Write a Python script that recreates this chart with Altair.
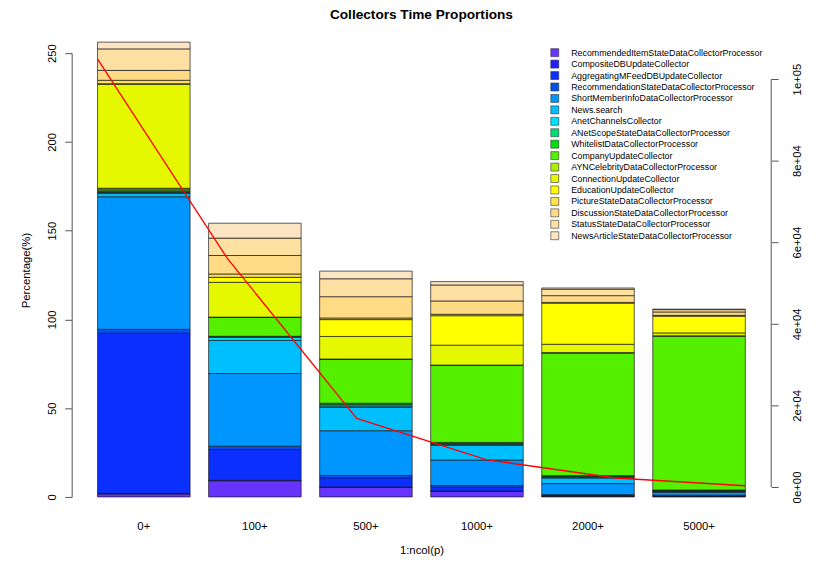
import altair as alt
import pandas as pd

collectors = [
    "RecommendedItemStateDataCollectorProcessor",
    "CompositeDBUpdateCollector",
    "AggregatingMFeedDBUpdateCollector",
    "RecommendationStateDataCollectorProcessor",
    "ShortMemberInfoDataCollectorProcessor",
    "News.search",
    "AnetChannelsCollector",
    "ANetScopeStateDataCollectorProcessor",
    "WhitelistDataCollectorProcessor",
    "CompanyUpdateCollector",
    "AYNCelebrityDataCollectorProcessor",
    "ConnectionUpdateCollector",
    "EducationUpdateCollector",
    "PictureStateDataCollectorProcessor",
    "DiscussionStateDataCollectorProcessor",
    "StatusStateDataCollectorProcessor",
    "NewsArticleStateDataCollectorProcessor",
]
colors = [
    "#6633FF", "#2020FF", "#0A2FFF", "#0050F0", "#0096FF", "#00BFFF",
    "#00E0FF", "#00DD77", "#00DD10", "#55F000", "#AAEE00", "#E6F800",
    "#FFFF00", "#FFE04D", "#FFDB85", "#FFE0A3", "#FDE5C3",
]
groups = ["0+", "100+", "500+", "1000+", "2000+", "5000+"]

pct_0 = [1.7, 0.3, 90.2, 2.2, 74.7, 1.8, 0.6, 0.4, 0.6, 1.0, 0.4, 58.5, 0.4, 1.9, 5.6, 12.1, 3.8]
pct_100 = [9.1, 0.2, 17.4, 1.9, 40.9, 18.7, 1.8, 0.2, 0.3, 10.6, 0.2, 19.6, 2.8, 1.9, 10.4, 9.8, 8.4]
pct_500 = [5.4, 0.2, 5.2, 1.3, 25.2, 13.1, 0.8, 0.8, 0.8, 24.7, 0.2, 12.7, 9.5, 0.9, 12.0, 10.1, 4.3]
pct_1000 = [3.2, 0.1, 2.2, 0.9, 14.4, 8.4, 0.3, 0.6, 0.6, 43.4, 0.2, 11.2, 16.6, 0.8, 7.5, 9.0, 1.9]
pct_2000 = [0.3, 0.2, 0.4, 0.4, 6.2, 3.2, 0.3, 0.5, 0.5, 69.0, 0.3, 4.7, 23.2, 0.4, 3.8, 3.6, 0.7]
pct_5000 = [0.2, 0.2, 0.3, 0.3, 1.5, 0.6, 0.2, 0.3, 0.3, 86.6, 0.3, 1.6, 9.4, 0.5, 1.9, 1.3, 0.3]

time_values = [104900, 56100, 16800, 6700, 2200, 300]

left_ticks = [0, 50, 100, 150, 200, 250]
right_ticks = [0, 20000, 40000, 60000, 80000, 100000]

rows = []
for g, vals in zip(groups, [pct_0, pct_100, pct_500, pct_1000, pct_2000, pct_5000]):
    for i, (c, v) in enumerate(zip(collectors, vals)):
        rows.append({"group": g, "collector": c, "ord": i, "pct": v})
df = pd.DataFrame(rows)

line_df = pd.DataFrame({"idx": list(range(1, len(time_values) + 1)), "t": time_values})
raxis_df = pd.DataFrame({"lo": [min(right_ticks)], "hi": [max(right_ticks)]})

W, H = 703, 446
FONT = "Liberation Sans"
right_scale = alt.Scale(domain=[-2439, 106341], nice=False, zero=False)
right_axis = alt.Axis(orient="right", values=right_ticks, title=None, domain=False, grid=False,
                      labelExpr="replace(format(datum.value, '.0e'), 'e+', 'e+0')",
                      labelAngle=270, labelAlign="center", labelBaseline="top",
                      labelPadding=13, tickSize=7, tickColor="#555",
                      labelFontSize=11.4, labelFont=FONT, labelColor="black")

bars = alt.Chart(df).mark_bar(stroke="#1a1a1a", strokeWidth=0.7).encode(
    x=alt.X(
        "group:N", sort=groups,
        scale=alt.Scale(paddingInner=0.1667, paddingOuter=0.233),
        axis=alt.Axis(title="1:ncol(p)", labelAngle=0, ticks=False, tickSize=0, domain=False,
                      labelPadding=24, titlePadding=12, labelFontSize=11.4, titleFontSize=11.4,
                      labelFont=FONT, titleFont=FONT, titleFontWeight="normal",
                      labelColor="black", titleColor="black"),
    ),
    y=alt.Y(
        "pct:Q", stack="zero",
        scale=alt.Scale(domain=[0, 250], nice=False, zero=False),
        axis=alt.Axis(values=left_ticks, title="Percentage(%)", labelAngle=270,
                      labelAlign="center", labelBaseline="bottom", labelPadding=7,
                      tickSize=7, tickColor="#555", domainColor="#555", grid=False,
                      labelFontSize=11.4, titleFontSize=11.4, labelFont=FONT, titleFont=FONT,
                      titleFontWeight="normal", labelColor="black", titleColor="black",
                      titleX=-45, titleY=218, titleAngle=270, titleAlign="center",
                      titleBaseline="middle"),
    ),
    color=alt.Color(
        "collector:N",
        scale=alt.Scale(domain=collectors, range=colors),
        legend=alt.Legend(title=None, orient="none", legendX=481, legendY=-5,
                          symbolType="square", symbolSize=64, symbolStrokeWidth=0.6,
                          symbolStrokeColor="#333", labelFontSize=8.9, labelFont=FONT,
                          labelColor="black", rowPadding=0.5, labelOffset=12, labelLimit=400),
    ),
    order=alt.Order("ord:Q", sort="ascending"),
)

line = alt.Chart(line_df).mark_line(color="red", strokeWidth=1.3).encode(
    x=alt.X("idx:Q", scale=alt.Scale(domain=[0.8, 6.2], nice=False, zero=False), axis=None),
    y=alt.Y("t:Q", scale=right_scale, axis=right_axis),
)

raxis = alt.Chart(raxis_df).mark_rule(color="#555", strokeWidth=1).encode(
    x=alt.value(W),
    y=alt.Y("lo:Q", scale=right_scale, axis=right_axis),
    y2="hi:Q",
)

chart = alt.layer(bars, alt.layer(line, raxis)).resolve_scale(
    x="independent", y="independent"
).properties(
    width=W, height=H,
    padding={"left": 64, "top": 44, "right": 40, "bottom": 60},
    autosize=alt.AutoSizeParams(type="none"),
    title=alt.Title("Collectors Time Proportions", font=FONT, fontSize=13.7,
                    fontWeight="bold", color="black", anchor="middle", offset=20),
    background="white",
).configure_view(stroke=None)

chart.save("out.html", embed_options={"renderer": "svg", "actions": False})
